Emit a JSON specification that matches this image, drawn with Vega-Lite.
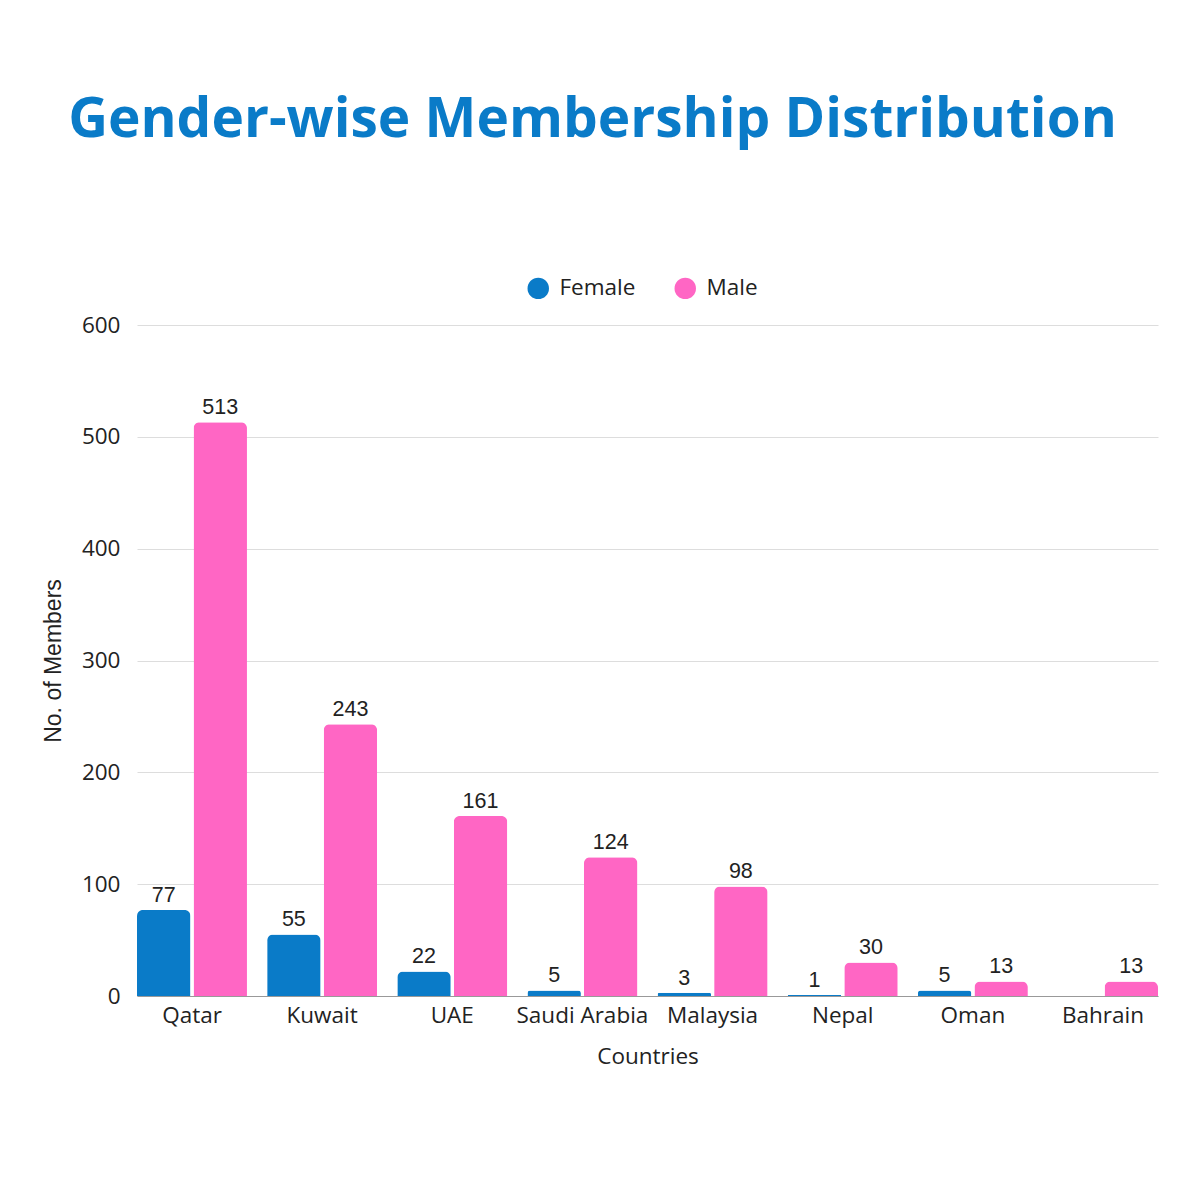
{
  "$schema": "https://vega.github.io/schema/vega-lite/v6.json",
  "autosize": {"type": "none"},
  "width": 1021,
  "height": 671,
  "padding": {"left": 137, "top": 325, "right": 42, "bottom": 204},
  "background": "white",
  "config": {"view": {"stroke": null}},
  "title": {
    "text": "Gender-wise Membership Distribution",
    "font": "Open Sans",
    "fontSize": 55,
    "fontWeight": "bold",
    "color": "#0a7bc8",
    "anchor": "middle",
    "dx": -55,
    "offset": 128
  },
  "data": {
    "values": [
      {"Country": "Qatar", "Gender": "Female", "Members": 77},
      {"Country": "Qatar", "Gender": "Male", "Members": 513},
      {"Country": "Kuwait", "Gender": "Female", "Members": 55},
      {"Country": "Kuwait", "Gender": "Male", "Members": 243},
      {"Country": "UAE", "Gender": "Female", "Members": 22},
      {"Country": "UAE", "Gender": "Male", "Members": 161},
      {"Country": "Saudi Arabia", "Gender": "Female", "Members": 5},
      {"Country": "Saudi Arabia", "Gender": "Male", "Members": 124},
      {"Country": "Malaysia", "Gender": "Female", "Members": 3},
      {"Country": "Malaysia", "Gender": "Male", "Members": 98},
      {"Country": "Nepal", "Gender": "Female", "Members": 1},
      {"Country": "Nepal", "Gender": "Male", "Members": 30},
      {"Country": "Oman", "Gender": "Female", "Members": 5},
      {"Country": "Oman", "Gender": "Male", "Members": 13},
      {"Country": "Bahrain", "Gender": "Female", "Members": 0},
      {"Country": "Bahrain", "Gender": "Male", "Members": 13}
    ]
  },
  "encoding": {
    "x": {
      "field": "Country",
      "type": "nominal",
      "sort": null,
      "scale": {"paddingInner": 0.155, "paddingOuter": 0},
      "axis": {
        "title": "Countries",
        "labelAngle": 0,
        "labelFont": "Open Sans",
        "labelFontSize": 22.5,
        "labelColor": "#222222",
        "labelPadding": 8,
        "ticks": false,
        "domainColor": "#999999",
        "titleFont": "Open Sans",
        "titleFontSize": 22.5,
        "titleFontWeight": "normal",
        "titleColor": "#222222",
        "titlePadding": 19
      }
    },
    "xOffset": {
      "field": "Gender",
      "type": "nominal",
      "scale": {"paddingInner": 0.055, "paddingOuter": 0}
    },
    "y": {
      "field": "Members",
      "type": "quantitative",
      "scale": {"domain": [0, 600]},
      "axis": {
        "title": "No. of Members",
        "values": [0, 100, 200, 300, 400, 500, 600],
        "labelFont": "Open Sans",
        "labelFontSize": 22.5,
        "labelColor": "#222222",
        "labelPadding": 17,
        "ticks": false,
        "domain": false,
        "gridColor": "#dddddd",
        "titleFont": "Liberation Sans",
        "titleFontSize": 23,
        "titleFontWeight": "normal",
        "titleColor": "#222222",
        "titlePadding": 16
      }
    }
  },
  "layer": [
    {
      "mark": {"type": "bar", "cornerRadiusTopLeft": 6, "cornerRadiusTopRight": 6},
      "encoding": {
        "color": {
          "field": "Gender",
          "type": "nominal",
          "scale": {"domain": ["Female", "Male"], "range": ["#0a7bc8", "#ff66c4"]},
          "legend": {
            "title": null,
            "orient": "none",
            "direction": "horizontal",
            "legendX": 390,
            "legendY": -48,
            "symbolType": "circle",
            "symbolSize": 460,
            "symbolStrokeWidth": 0,
            "labelFont": "Open Sans",
            "labelFontSize": 22.5,
            "labelColor": "#222222",
            "labelOffset": 10,
            "columnPadding": 38
          }
        }
      }
    },
    {
      "transform": [{"filter": "datum.Members > 0"}],
      "mark": {
        "type": "text",
        "baseline": "alphabetic",
        "dy": -8,
        "font": "Liberation Sans",
        "fontSize": 21.5,
        "color": "#222222"
      },
      "encoding": {
        "text": {"field": "Members", "type": "quantitative"}
      }
    }
  ]
}
